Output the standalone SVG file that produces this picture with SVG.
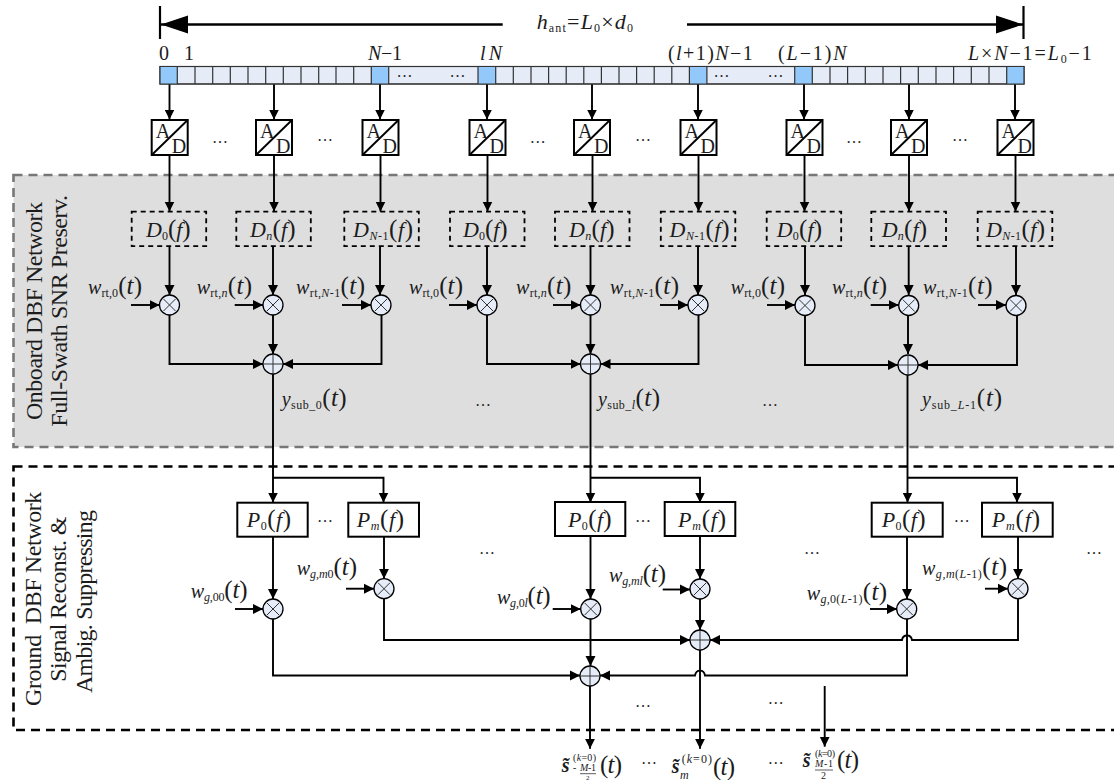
<svg xmlns="http://www.w3.org/2000/svg" width="1114" height="780" viewBox="0 0 1114 780">
<style>
text{font-family:"Liberation Serif","DejaVu Serif",serif;font-size:20px;fill:#1c1c1c}
.i{font-style:italic}
.s{font-size:12px}
.si{font-size:12px;font-style:italic}
.p{font-size:25px}
.f{font-size:22px}
.side{font-size:24px}
.d{font-size:16px;text-anchor:middle}
.ad{font-size:20px}
.tiny{font-size:10px}
.tiny2{font-size:7px}
.c{fill:none;stroke:#000;stroke-width:1.9}
.a{marker-end:url(#ah)}
.b{fill:none;stroke:#000;stroke-width:2.4;marker-end:url(#bh)}
.box{fill:#fff;stroke:#000;stroke-width:2}
.db{fill:none;stroke:#000;stroke-width:1.8;stroke-dasharray:5 4}
.o{fill:#e6edf8;stroke:#000;stroke-width:1.3}
.x{fill:none;stroke:#333;stroke-width:1}
</style>
<defs>
<marker id="ah" markerUnits="userSpaceOnUse" markerWidth="11" markerHeight="11" refX="10" refY="5.5" orient="auto"><path d="M0 0.5L10 5.5L0 10.5Z" fill="#000"/></marker>
<marker id="bh" markerUnits="userSpaceOnUse" markerWidth="28" markerHeight="20" refX="27" refY="10" orient="auto"><path d="M0 1L27 10L0 19Z" fill="#000"/></marker>
</defs>

<g id="panels">
<rect x="13.5" y="175" width="1104" height="272" fill="#dedede" stroke="#777" stroke-width="2.6" stroke-dasharray="9 6"/>
<rect x="13.5" y="466.5" width="1104" height="263.5" fill="none" stroke="#000" stroke-width="2.6" stroke-dasharray="9 6"/>
</g>

<g id="connectors">
<path class="b" d="M502.7 24.5H161"/>
<path class="b" d="M687 24.5H1023"/>
<path class="c" style="stroke-width:2.2" d="M160 6V39M1023.5 6V39"/>
<path class="c a" d="M169.5 84V119.5"/><path class="c a" d="M274 84V119.5"/><path class="c a" d="M380 84V119.5"/>
<path class="c a" d="M487 84V119.5"/><path class="c a" d="M592 84V119.5"/><path class="c a" d="M698 84V119.5"/>
<path class="c a" d="M804 84V119.5"/><path class="c a" d="M909 84V119.5"/><path class="c a" d="M1015 84V119.5"/>
<path class="c a" d="M169.5 155V211.5"/><path class="c a" d="M274 155V211.5"/><path class="c a" d="M380.5 155V211.5"/>
<path class="c a" d="M487.5 155V211.5"/><path class="c a" d="M592.5 155V211.5"/><path class="c a" d="M698.5 155V211.5"/>
<path class="c a" d="M804.5 155V211.5"/><path class="c a" d="M909 155V211.5"/><path class="c a" d="M1015.5 155V211.5"/>
<path class="c a" d="M169.5 246V295"/><path class="c a" d="M273 246V295"/><path class="c a" d="M380 246V295"/>
<path class="c a" d="M487 246V295"/><path class="c a" d="M590.5 246V295"/><path class="c a" d="M698 246V295"/>
<path class="c a" d="M805 246V295"/><path class="c a" d="M908.7 246V295"/><path class="c a" d="M1016 246V295"/>
<path class="c a" d="M131 305H159.5"/><path class="c a" d="M234.7 305H263"/><path class="c a" d="M342 305H371"/>
<path class="c a" d="M449 305H477"/><path class="c a" d="M553 305H580.5"/><path class="c a" d="M660 305H688"/>
<path class="c a" d="M767 305H795"/><path class="c a" d="M870.7 305H898.7"/><path class="c a" d="M978 305H1006"/>
<path class="c a" d="M273 315V354"/><path class="c a" d="M590.5 315V354"/><path class="c a" d="M908 315V354"/>
<path class="c a" d="M169.5 315V364H263"/><path class="c a" d="M381.5 315V364H283"/>
<path class="c a" d="M487 315V364H580.5"/><path class="c a" d="M698.5 315V364H600.5"/>
<path class="c a" d="M805 315V365H898"/><path class="c a" d="M1017 315V365H918"/>
<path class="c a" d="M273 374V502.5"/><path class="c a" d="M273 477.7H383.5V502.5"/>
<path class="c a" d="M590.5 374V502.5"/><path class="c a" d="M590.5 477.7H700V502.5"/>
<path class="c a" d="M907.5 375V502.5"/><path class="c a" d="M907.5 477.7H1017V502.5"/>
<path class="c a" d="M273 537V599"/><path class="c a" d="M384 537V578.7"/>
<path class="c a" d="M590.5 537V599"/><path class="c a" d="M700 537V579"/>
<path class="c a" d="M907 537V599"/><path class="c a" d="M1018 537V578.7"/>
<path class="c a" d="M235 609H263"/><path class="c a" d="M346 588.7H374"/>
<path class="c a" d="M552.7 609H580.7"/><path class="c a" d="M662.7 589.5H690"/>
<path class="c a" d="M870 609H897"/><path class="c a" d="M985 588.7H1008"/>
<path class="c a" d="M384 598.7V640H690"/>
<path class="c a" d="M700 599V630"/>
<path class="c a" d="M1018 598.7V640H912C911 634 903 634 902 640H710"/>
<path class="c a" d="M590.5 619V666"/>
<path class="c a" d="M273 619V675.5H580"/>
<path class="c a" d="M907 619V675.5H705C704 669 696 669 695 675.5H600"/>
<path class="c a" d="M590 686V748.7"/>
<path class="c a" d="M700 650V748.7"/>
<path class="c a" d="M824.7 686V746.7"/>
</g>

<g id="aperture-label">
<text x="536.7" y="28.5" textLength="96.3" style="font-size:22px"><tspan class="i">h</tspan><tspan class="s" dy="3">ant</tspan><tspan dy="-3">=</tspan><tspan class="i">L</tspan><tspan class="s" dy="3">0</tspan><tspan dy="-3">×</tspan><tspan class="i">d</tspan><tspan class="s" dy="3">0</tspan></text>
</g>

<g id="array">
<rect x="160" y="66.5" width="864" height="17.5" fill="#e5ecf7" stroke="#333" stroke-width="1.2"/>
<path fill="#93c8fb" d="M160 66.5H177.3V84H160ZM371.3 66.5H388.7V84H371.3ZM478 66.5H495.7V84H478ZM689.4 66.5H706.9V84H689.4ZM794.7 66.5H812.3V84H794.7ZM1006.7 66.5H1024V84H1006.7Z"/>
<path fill="none" stroke="#333" stroke-width="1.2" d="M160 66.5H1024V84H160ZM177.3 66.5V84M195 66.5V84M212.7 66.5V84M230.3 66.5V84M248 66.5V84M265.7 66.5V84M283.3 66.5V84M301 66.5V84M318.7 66.5V84M336 66.5V84M353.7 66.5V84M371.3 66.5V84M388.7 66.5V84M478 66.5V84M495.7 66.5V84M513.3 66.5V84M531 66.5V84M548.6 66.5V84M566.2 66.5V84M583.8 66.5V84M601.4 66.5V84M619 66.5V84M636.6 66.5V84M654.2 66.5V84M671.8 66.5V84M689.4 66.5V84M706.9 66.5V84M794.7 66.5V84M812.3 66.5V84M830 66.5V84M847.6 66.5V84M865.3 66.5V84M883 66.5V84M900.6 66.5V84M918.3 66.5V84M936 66.5V84M953.6 66.5V84M971.3 66.5V84M989 66.5V84M1006.7 66.5V84"/>
<text class="d" x="404.5" y="77">…</text><text class="d" x="457.5" y="77">…</text>
<text class="d" x="721.5" y="77">…</text><text class="d" x="775.5" y="77">…</text>
<text x="159" y="60">0</text><text x="184" y="60">1</text>
<text x="368" y="60" textLength="34"><tspan class="i">N</tspan>−1</text>
<text x="480" y="60" textLength="22" class="i">lN</text>
<text x="668" y="60" textLength="84.7">(<tspan class="i">l</tspan>+1)<tspan class="i">N</tspan>−1</text>
<text x="778" y="60" textLength="68.7">(<tspan class="i">L</tspan>−1)<tspan class="i">N</tspan></text>
<text x="968" y="60" textLength="123.7"><tspan class="i">L</tspan>×<tspan class="i">N</tspan>−1=<tspan class="i">L</tspan><tspan class="s" dy="3">0</tspan><tspan dy="-3">−1</tspan></text>
</g>

<g id="ad-converters">
<g id="ad1" transform="translate(151.7 120)"><rect class="box" width="36" height="35"/><path class="c" d="M0 35L36 0"/><text class="ad" x="4" y="18">A</text><text class="ad" x="20" y="33">D</text></g>
<g id="ad2" transform="translate(256 120)"><rect class="box" width="36" height="35"/><path class="c" d="M0 35L36 0"/><text class="ad" x="4" y="18">A</text><text class="ad" x="20" y="33">D</text></g>
<g id="ad3" transform="translate(362.5 120)"><rect class="box" width="36" height="35"/><path class="c" d="M0 35L36 0"/><text class="ad" x="4" y="18">A</text><text class="ad" x="20" y="33">D</text></g>
<g id="ad4" transform="translate(469.5 120)"><rect class="box" width="36" height="35"/><path class="c" d="M0 35L36 0"/><text class="ad" x="4" y="18">A</text><text class="ad" x="20" y="33">D</text></g>
<g id="ad5" transform="translate(574 120)"><rect class="box" width="36" height="35"/><path class="c" d="M0 35L36 0"/><text class="ad" x="4" y="18">A</text><text class="ad" x="20" y="33">D</text></g>
<g id="ad6" transform="translate(680.5 120)"><rect class="box" width="36" height="35"/><path class="c" d="M0 35L36 0"/><text class="ad" x="4" y="18">A</text><text class="ad" x="20" y="33">D</text></g>
<g id="ad7" transform="translate(786.5 120)"><rect class="box" width="36" height="35"/><path class="c" d="M0 35L36 0"/><text class="ad" x="4" y="18">A</text><text class="ad" x="20" y="33">D</text></g>
<g id="ad8" transform="translate(891 120)"><rect class="box" width="36" height="35"/><path class="c" d="M0 35L36 0"/><text class="ad" x="4" y="18">A</text><text class="ad" x="20" y="33">D</text></g>
<g id="ad9" transform="translate(997.5 120)"><rect class="box" width="36" height="35"/><path class="c" d="M0 35L36 0"/><text class="ad" x="4" y="18">A</text><text class="ad" x="20" y="33">D</text></g>
<text class="d" x="220" y="143">…</text><text class="d" x="325" y="141">…</text><text class="d" x="537.7" y="143">…</text><text class="d" x="643" y="141">…</text><text class="d" x="854" y="143">…</text><text class="d" x="960" y="141">…</text>
</g>

<g id="doppler-filters">
<g id="d1"><rect class="db" x="131.7" y="211.7" width="74.5" height="34.5"/><text x="146" y="237" textLength="44.7"><tspan class="i f">D</tspan><tspan class="s" dy="3">0</tspan><tspan class="p" dy="-3">(</tspan><tspan class="i f">f</tspan><tspan class="p">)</tspan></text></g>
<g id="d2"><rect class="db" x="236.3" y="211.7" width="74.5" height="34.5"/><text x="250" y="237" textLength="45.7"><tspan class="i f">D</tspan><tspan class="si" dy="3">n</tspan><tspan class="p" dy="-3">(</tspan><tspan class="i f">f</tspan><tspan class="p">)</tspan></text></g>
<g id="d3"><rect class="db" x="344.3" y="211.7" width="74.5" height="34.5"/><text x="353" y="237" textLength="60"><tspan class="i f">D</tspan><tspan class="si" dy="3">N</tspan><tspan class="s">-1</tspan><tspan class="p" dy="-3">(</tspan><tspan class="i f">f</tspan><tspan class="p">)</tspan></text></g>
<g id="d4"><rect class="db" x="450" y="211.7" width="74.5" height="34.5"/><text x="463" y="237" textLength="44.7"><tspan class="i f">D</tspan><tspan class="s" dy="3">0</tspan><tspan class="p" dy="-3">(</tspan><tspan class="i f">f</tspan><tspan class="p">)</tspan></text></g>
<g id="d5"><rect class="db" x="555" y="211.7" width="74.5" height="34.5"/><text x="569" y="237" textLength="45.7"><tspan class="i f">D</tspan><tspan class="si" dy="3">n</tspan><tspan class="p" dy="-3">(</tspan><tspan class="i f">f</tspan><tspan class="p">)</tspan></text></g>
<g id="d6"><rect class="db" x="660.8" y="211.7" width="74.5" height="34.5"/><text x="669.5" y="237" textLength="60"><tspan class="i f">D</tspan><tspan class="si" dy="3">N</tspan><tspan class="s">-1</tspan><tspan class="p" dy="-3">(</tspan><tspan class="i f">f</tspan><tspan class="p">)</tspan></text></g>
<g id="d7"><rect class="db" x="766.7" y="211.7" width="74.5" height="34.5"/><text x="776.7" y="237" textLength="45.3"><tspan class="i f">D</tspan><tspan class="s" dy="3">0</tspan><tspan class="p" dy="-3">(</tspan><tspan class="i f">f</tspan><tspan class="p">)</tspan></text></g>
<g id="d8"><rect class="db" x="871.3" y="211.7" width="74.7" height="34.5"/><text x="881.7" y="237" textLength="45.3"><tspan class="i f">D</tspan><tspan class="si" dy="3">n</tspan><tspan class="p" dy="-3">(</tspan><tspan class="i f">f</tspan><tspan class="p">)</tspan></text></g>
<g id="d9"><rect class="db" x="977.7" y="211.7" width="74.6" height="34.5"/><text x="986" y="237" textLength="59"><tspan class="i f">D</tspan><tspan class="si" dy="3">N</tspan><tspan class="s">-1</tspan><tspan class="p" dy="-3">(</tspan><tspan class="i f">f</tspan><tspan class="p">)</tspan></text></g>
</g>

<g id="rt-multipliers">
<g id="m1" transform="translate(169.5 305)"><circle class="o" r="10"/><path class="x" d="M-6 -6L6 6M-6 6L6 -6"/></g>
<g id="m2" transform="translate(273 305)"><circle class="o" r="10"/><path class="x" d="M-6 -6L6 6M-6 6L6 -6"/></g>
<g id="m3" transform="translate(381 305)"><circle class="o" r="10"/><path class="x" d="M-6 -6L6 6M-6 6L6 -6"/></g>
<g id="m4" transform="translate(487 305)"><circle class="o" r="10"/><path class="x" d="M-6 -6L6 6M-6 6L6 -6"/></g>
<g id="m5" transform="translate(590.5 305)"><circle class="o" r="10"/><path class="x" d="M-6 -6L6 6M-6 6L6 -6"/></g>
<g id="m6" transform="translate(698 305)"><circle class="o" r="10"/><path class="x" d="M-6 -6L6 6M-6 6L6 -6"/></g>
<g id="m7" transform="translate(805 305.5)"><circle class="o" r="10"/><path class="x" d="M-6 -6L6 6M-6 6L6 -6"/></g>
<g id="m8" transform="translate(908.7 305.5)"><circle class="o" r="10"/><path class="x" d="M-6 -6L6 6M-6 6L6 -6"/></g>
<g id="m9" transform="translate(1016 305.5)"><circle class="o" r="10"/><path class="x" d="M-6 -6L6 6M-6 6L6 -6"/></g>
<text x="88" y="294" textLength="54"><tspan class="i">w</tspan><tspan class="s" dy="3">rt,0</tspan><tspan class="p" dy="-3">(</tspan><tspan class="i p">t</tspan><tspan class="p">)</tspan></text>
<text x="196.7" y="294" textLength="55.3"><tspan class="i">w</tspan><tspan class="s" dy="3">rt,</tspan><tspan class="si">n</tspan><tspan class="p" dy="-3">(</tspan><tspan class="i p">t</tspan><tspan class="p">)</tspan></text>
<text x="296" y="294" textLength="69"><tspan class="i">w</tspan><tspan class="s" dy="3">rt,</tspan><tspan class="si">N</tspan><tspan class="s">-1</tspan><tspan class="p" dy="-3">(</tspan><tspan class="i p">t</tspan><tspan class="p">)</tspan></text>
<text x="409" y="294" textLength="54"><tspan class="i">w</tspan><tspan class="s" dy="3">rt,0</tspan><tspan class="p" dy="-3">(</tspan><tspan class="i p">t</tspan><tspan class="p">)</tspan></text>
<text x="516" y="294" textLength="55.3"><tspan class="i">w</tspan><tspan class="s" dy="3">rt,</tspan><tspan class="si">n</tspan><tspan class="p" dy="-3">(</tspan><tspan class="i p">t</tspan><tspan class="p">)</tspan></text>
<text x="610" y="294" textLength="69"><tspan class="i">w</tspan><tspan class="s" dy="3">rt,</tspan><tspan class="si">N</tspan><tspan class="s">-1</tspan><tspan class="p" dy="-3">(</tspan><tspan class="i p">t</tspan><tspan class="p">)</tspan></text>
<text x="730.7" y="294" textLength="54.3"><tspan class="i">w</tspan><tspan class="s" dy="3">rt,0</tspan><tspan class="p" dy="-3">(</tspan><tspan class="i p">t</tspan><tspan class="p">)</tspan></text>
<text x="832" y="294" textLength="55"><tspan class="i">w</tspan><tspan class="s" dy="3">rt,</tspan><tspan class="si">n</tspan><tspan class="p" dy="-3">(</tspan><tspan class="i p">t</tspan><tspan class="p">)</tspan></text>
<text x="923" y="294" textLength="69.7"><tspan class="i">w</tspan><tspan class="s" dy="3">rt,</tspan><tspan class="si">N</tspan><tspan class="s">-1</tspan><tspan class="p" dy="-3">(</tspan><tspan class="i p">t</tspan><tspan class="p">)</tspan></text>
</g>

<g id="sub-aperture-sums">
<g id="s1" transform="translate(273 364)"><circle class="o" r="10"/><path class="x" d="M-9 0H9M0 -9V9"/></g>
<g id="s2" transform="translate(590.5 364)"><circle class="o" r="10"/><path class="x" d="M-9 0H9M0 -9V9"/></g>
<g id="s3" transform="translate(908 365)"><circle class="o" r="10"/><path class="x" d="M-9 0H9M0 -9V9"/></g>
<text x="281.7" y="406" textLength="65"><tspan class="i">y</tspan><tspan class="s" dy="3">sub_0</tspan><tspan class="p" dy="-3">(</tspan><tspan class="i p">t</tspan><tspan class="p">)</tspan></text>
<text x="598" y="406" textLength="62"><tspan class="i">y</tspan><tspan class="s" dy="3">sub_</tspan><tspan class="si">l</tspan><tspan class="p" dy="-3">(</tspan><tspan class="i p">t</tspan><tspan class="p">)</tspan></text>
<text x="922" y="406" textLength="80"><tspan class="i">y</tspan><tspan class="s" dy="3">sub_</tspan><tspan class="si">L</tspan><tspan class="s">-1</tspan><tspan class="p" dy="-3">(</tspan><tspan class="i p">t</tspan><tspan class="p">)</tspan></text>
<text class="d" x="483" y="406">…</text><text class="d" x="770" y="406">…</text>
</g>

<g id="prf-filters">
<g id="p1"><rect class="box" x="237.3" y="502.7" width="70.4" height="34"/><text x="246.7" y="527" textLength="44.3"><tspan class="i f">P</tspan><tspan class="s" dy="3">0</tspan><tspan class="p" dy="-3">(</tspan><tspan class="i f">f</tspan><tspan class="p">)</tspan></text></g>
<g id="p2"><rect class="box" x="348.3" y="502.7" width="70.7" height="34"/><text x="356.7" y="527" textLength="47.3"><tspan class="i f">P</tspan><tspan class="si" dy="3">m</tspan><tspan class="p" dy="-3">(</tspan><tspan class="i f">f</tspan><tspan class="p">)</tspan></text></g>
<g id="p3"><rect class="box" x="555" y="502" width="70.3" height="34"/><text x="568" y="527" textLength="43.7"><tspan class="i f">P</tspan><tspan class="s" dy="3">0</tspan><tspan class="p" dy="-3">(</tspan><tspan class="i f">f</tspan><tspan class="p">)</tspan></text></g>
<g id="p4"><rect class="box" x="664.7" y="502" width="70.6" height="34"/><text x="678" y="527" textLength="48"><tspan class="i f">P</tspan><tspan class="si" dy="3">m</tspan><tspan class="p" dy="-3">(</tspan><tspan class="i f">f</tspan><tspan class="p">)</tspan></text></g>
<g id="p5"><rect class="box" x="871.7" y="502.7" width="71" height="34"/><text x="881.7" y="527" textLength="44"><tspan class="i f">P</tspan><tspan class="s" dy="3">0</tspan><tspan class="p" dy="-3">(</tspan><tspan class="i f">f</tspan><tspan class="p">)</tspan></text></g>
<g id="p6"><rect class="box" x="982" y="502.7" width="70.7" height="34"/><text x="991.7" y="527" textLength="48.3"><tspan class="i f">P</tspan><tspan class="si" dy="3">m</tspan><tspan class="p" dy="-3">(</tspan><tspan class="i f">f</tspan><tspan class="p">)</tspan></text></g>
<text class="d" x="325" y="522">…</text><text class="d" x="643" y="522">…</text><text class="d" x="961.7" y="522">…</text>
<text class="d" x="487" y="554">…</text><text class="d" x="812" y="554">…</text><text class="d" x="1094" y="554">…</text>
</g>

<g id="ground-multipliers">
<g id="g1" transform="translate(273 609)"><circle class="o" r="10"/><path class="x" d="M-6 -6L6 6M-6 6L6 -6"/></g>
<g id="g2" transform="translate(384 588.7)"><circle class="o" r="10"/><path class="x" d="M-6 -6L6 6M-6 6L6 -6"/></g>
<g id="g3" transform="translate(590.7 609)"><circle class="o" r="10"/><path class="x" d="M-6 -6L6 6M-6 6L6 -6"/></g>
<g id="g4" transform="translate(700 589)"><circle class="o" r="10"/><path class="x" d="M-6 -6L6 6M-6 6L6 -6"/></g>
<g id="g5" transform="translate(906.7 609)"><circle class="o" r="10"/><path class="x" d="M-6 -6L6 6M-6 6L6 -6"/></g>
<g id="g6" transform="translate(1018 588.7)"><circle class="o" r="10"/><path class="x" d="M-6 -6L6 6M-6 6L6 -6"/></g>
<text x="190.7" y="598" textLength="57"><tspan class="i">w</tspan><tspan class="si" dy="3">g</tspan><tspan class="s">,00</tspan><tspan class="p" dy="-3">(</tspan><tspan class="i p">t</tspan><tspan class="p">)</tspan></text>
<text x="296.7" y="575" textLength="60.3"><tspan class="i">w</tspan><tspan class="si" dy="3">g,m</tspan><tspan class="s">0</tspan><tspan class="p" dy="-3">(</tspan><tspan class="i p">t</tspan><tspan class="p">)</tspan></text>
<text x="497" y="604" textLength="53.7"><tspan class="i">w</tspan><tspan class="si" dy="3">g</tspan><tspan class="s">,0</tspan><tspan class="si">l</tspan><tspan class="p" dy="-3">(</tspan><tspan class="i p">t</tspan><tspan class="p">)</tspan></text>
<text x="609" y="582" textLength="57"><tspan class="i">w</tspan><tspan class="si" dy="3">g,ml</tspan><tspan class="p" dy="-3">(</tspan><tspan class="i p">t</tspan><tspan class="p">)</tspan></text>
<text x="806.7" y="600" textLength="80.3"><tspan class="i">w</tspan><tspan class="si" dy="3">g</tspan><tspan class="s">,0(</tspan><tspan class="si">L</tspan><tspan class="s">-1)</tspan><tspan class="p" dy="-3">(</tspan><tspan class="i p">t</tspan><tspan class="p">)</tspan></text>
<text x="922" y="575" textLength="85"><tspan class="i">w</tspan><tspan class="si" dy="3">g,m</tspan><tspan class="s">(</tspan><tspan class="si">L</tspan><tspan class="s">-1)</tspan><tspan class="p" dy="-3">(</tspan><tspan class="i p">t</tspan><tspan class="p">)</tspan></text>
</g>

<g id="ground-sums">
<g id="gs1" transform="translate(700 640)"><circle class="o" r="10"/><path class="x" d="M-9 0H9M0 -9V9"/></g>
<g id="gs2" transform="translate(590 676)"><circle class="o" r="10"/><path class="x" d="M-9 0H9M0 -9V9"/></g>
<text class="d" x="643" y="707">…</text><text class="d" x="775.7" y="704">…</text>
</g>

<g id="outputs">
<g id="out1"><text class="i" x="561.7" y="772" font-weight="bold">s̃</text><text class="tiny" x="573" y="761" textLength="23">(<tspan class="i">k</tspan>=0)</text><text class="tiny" x="573" y="771">-</text><text class="tiny" x="580" y="771" textLength="16"><tspan class="i">M</tspan>-1</text><path d="M580 773.7H596" stroke="#333" stroke-width="0.8"/><text class="tiny2" x="586" y="779.5">2</text><text class="p" x="600" y="773" textLength="22">(<tspan class="i">t</tspan>)</text></g>
<g id="out2"><text class="i" x="671.7" y="773" font-weight="bold">s̃</text><text class="s" x="681.7" y="763" textLength="30.3">(<tspan class="i">k</tspan>=0)</text><text class="si" x="680" y="779">m</text><text class="p" x="713" y="775" textLength="22">(<tspan class="i">t</tspan>)</text></g>
<g id="out3"><text class="i" x="802.7" y="767" font-weight="bold">s̃</text><text class="tiny" x="815" y="757" textLength="20">(<tspan class="i">k</tspan>=0)</text><text class="tiny" x="815" y="767" textLength="18"><tspan class="i">M</tspan>-1</text><path d="M815 770H833" stroke="#333" stroke-width="0.8"/><text class="tiny" x="821" y="778.5">2</text><text class="p" x="837" y="768" textLength="22">(<tspan class="i">t</tspan>)</text></g>
<text class="d" x="649" y="764">…</text><text class="d" x="775.7" y="764">…</text>
</g>

<g id="side-labels">
<text class="side" transform="translate(41.7 420) rotate(-90)" textLength="218">Onboard DBF Network</text>
<text class="side" transform="translate(66.7 426.7) rotate(-90)" textLength="231.7">Full-Swath SNR Preserv.</text>
<text class="side" transform="translate(40.7 706) rotate(-90)" textLength="214.3" xml:space="preserve">Ground  DBF Network</text>
<text class="side" transform="translate(66 681.7) rotate(-90)" textLength="165">Signal Reconst. &amp;</text>
<text class="side" transform="translate(91.7 693) rotate(-90)" textLength="183">Ambig. Suppressing</text>
</g>
</svg>
